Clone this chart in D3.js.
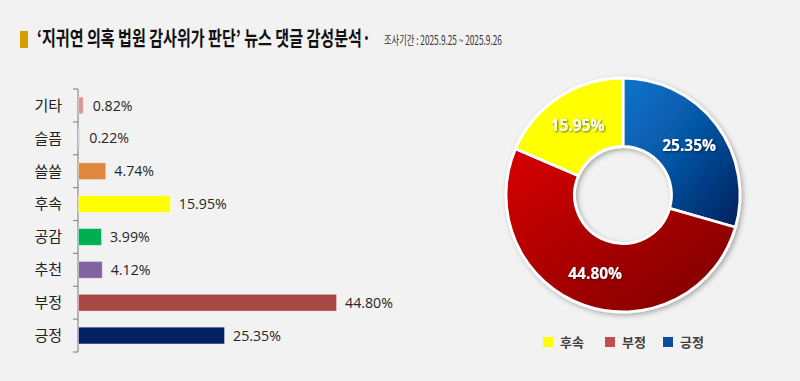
<!DOCTYPE html>
<html><head><meta charset="utf-8">
<script src="https://cdn.jsdelivr.net/npm/d3@7"></script>
<style>
html,body{margin:0;padding:0;background:#f2f2f2;}
svg{display:block;font-family:"Noto Sans CJK KR","Noto Sans",sans-serif;}
</style></head>
<body>
<svg id="chart" width="800" height="381"></svg>
<script>
// ---- data ----
const titleText = "‘지귀연 의혹 법원 감사위가 판단’ 뉴스 댓글 감성분석·";
const subtitleText = "조사기간 : 2025.9.25 ~ 2025.9.26";
const categories = ["기타","슬픔","쓸쓸","후속","공감","추천","부정","긍정"];
const values = [0.82,0.22,4.74,15.95,3.99,4.12,44.80,25.35];
const donutCategories = ["긍정","부정","후속"];
const donutValues = [25.35,44.80,15.95];
const legendOrder = ["후속","부정","긍정"];

const barColors = ["#d99694","#b9cde5","#e0883e","#ffff00","#00b050","#8064a2","#a94744","#002060"];

const svg = d3.select("#chart");
const defs = svg.append("defs");

// ---- title ----
function fitText(sel, x0, targetW){
  const w = sel.node().getComputedTextLength();
  sel.attr("x",0).attr("transform",`translate(${x0},0) scale(${targetW/w},1)`);
}
svg.append("rect").attr("x",20).attr("y",31).attr("width",8).attr("height",17).attr("fill","#d4a000");
const tt = svg.append("text").attr("y",46.5).attr("font-size",20.5).attr("font-weight","bold")
  .attr("fill","#111").text(titleText);
fitText(tt,37,334);
const st = svg.append("text").attr("y",45).attr("font-size",12.5).attr("fill","#333").text(subtitleText);
fitText(st,384,118);

// ---- bar chart ----
const x = d3.scaleLinear().domain([0,50]).range([78,366]);
const y = d3.scaleBand().domain(categories).range([89,352]).padding(0);
const color = d3.scaleOrdinal().domain(categories).range(barColors);
const barH = y.bandwidth()*0.51;

const g = svg.append("g");
g.append("line").attr("x1",x(0)).attr("x2",x(0)).attr("y1",y.range()[0]).attr("y2",y.range()[1])
  .attr("stroke","#8c8c8c").attr("stroke-width",1.2);
d3.range(categories.length+1).forEach(i=>{
  const yy = y.range()[0] + i*y.step();
  g.append("line").attr("x1",x(0)-5).attr("x2",x(0)).attr("y1",yy).attr("y2",yy)
    .attr("stroke","#8c8c8c").attr("stroke-width",1.2);
});
g.selectAll("rect.bar").data(categories).join("rect").attr("class","bar")
  .attr("x",x(0)+0.5).attr("y",d=>y(d)+y.bandwidth()/2-barH/2)
  .attr("width",(d,i)=>Math.max(1.2,x(values[i])-x(0)))
  .attr("height",barH).attr("fill",d=>color(d))
  .attr("stroke","rgba(255,255,255,0.45)").attr("stroke-width",0.8);
g.selectAll("text.cat").data(categories).join("text").attr("class","cat")
  .attr("x",62).attr("y",d=>y(d)+y.bandwidth()/2).attr("dy","0.36em")
  .attr("text-anchor","end").attr("font-size",15).attr("fill","#222").text(d=>d);
g.selectAll("text.val").data(categories).join("text").attr("class","val")
  .attr("x",(d,i)=>x(values[i])+ (values[i]<1?10:9)).attr("y",d=>y(d)+y.bandwidth()/2).attr("dy","0.36em")
  .attr("font-family","'Open Sans',sans-serif").attr("font-size",14.2).attr("fill","#262626")
  .text((d,i)=>values[i].toFixed(2)+"%");

// ---- donut ----
const cx=623, cy=195, rOut=117, rIn=48.5;
const gradBlue = defs.append("linearGradient").attr("id","gBlue").attr("x1","0").attr("y1","0").attr("x2","1").attr("y2","1");
gradBlue.append("stop").attr("offset","0%").attr("stop-color","#0a74cc");
gradBlue.append("stop").attr("offset","45%").attr("stop-color","#0658a8");
gradBlue.append("stop").attr("offset","100%").attr("stop-color","#001f5c");
const gradRed = defs.append("linearGradient").attr("id","gRed").attr("x1","0").attr("y1","0").attr("x2","1").attr("y2","1");
gradRed.append("stop").attr("offset","0%").attr("stop-color","#d80000");
gradRed.append("stop").attr("offset","50%").attr("stop-color","#a80000");
gradRed.append("stop").attr("offset","100%").attr("stop-color","#780000");
const sliceFill = d3.scaleOrdinal().domain(donutCategories).range(["url(#gBlue)","url(#gRed)","#ffff00"]);
const legendColor = d3.scaleOrdinal().domain(donutCategories).range(["#0b4f9c","#c0504d","#ffff00"]);

const shadow = defs.append("filter").attr("id","sh").attr("x","-20%").attr("y","-20%").attr("width","140%").attr("height","140%");
shadow.append("feDropShadow").attr("dx",2).attr("dy",2).attr("stdDeviation",2.5).attr("flood-color","#000").attr("flood-opacity",0.3);
const tsh = defs.append("filter").attr("id","tsh").attr("x","-20%").attr("y","-30%").attr("width","140%").attr("height","160%");
tsh.append("feDropShadow").attr("dx",1).attr("dy",1).attr("stdDeviation",0.8).attr("flood-color","#000").attr("flood-opacity",0.6);

const pie = d3.pie().sort(null).value(d=>d)(donutValues);
const arc = d3.arc().innerRadius(rIn).outerRadius(rOut);
const labelArc = d3.arc().innerRadius((rIn+rOut)/2).outerRadius((rIn+rOut)/2);
const dg = svg.append("g").attr("transform",`translate(${cx},${cy})`);
dg.append("g").attr("filter","url(#sh)").selectAll("path").data(pie).join("path")
  .attr("d",arc).attr("fill",(d,i)=>sliceFill(donutCategories[i]))
  .attr("stroke","#fff").attr("stroke-width",2.8).attr("stroke-linejoin","round");
dg.selectAll("text.dl").data(pie).join("text").attr("class","dl")
  .attr("transform",d=>`translate(${labelArc.centroid(d)})`).attr("dy","0.36em")
  .attr("text-anchor","middle").attr("font-family","'Open Sans',sans-serif").attr("font-weight","bold")
  .attr("font-size",15.5).attr("fill","#fff").attr("filter","url(#tsh)")
  .text((d,i)=>donutValues[i].toFixed(2)+"%");

// legend
const lx = [543,605,663];
const lg = svg.append("g");
legendOrder.forEach((c,i)=>{
  lg.append("rect").attr("x",lx[i]).attr("y",337).attr("width",10).attr("height",10).attr("fill",legendColor(c));
  lg.append("text").attr("x",lx[i]+17).attr("y",342).attr("dy","0.36em").attr("font-size",13).attr("font-weight","bold")
    .attr("fill","#404040").text(c);
});
</script>
</body></html>
